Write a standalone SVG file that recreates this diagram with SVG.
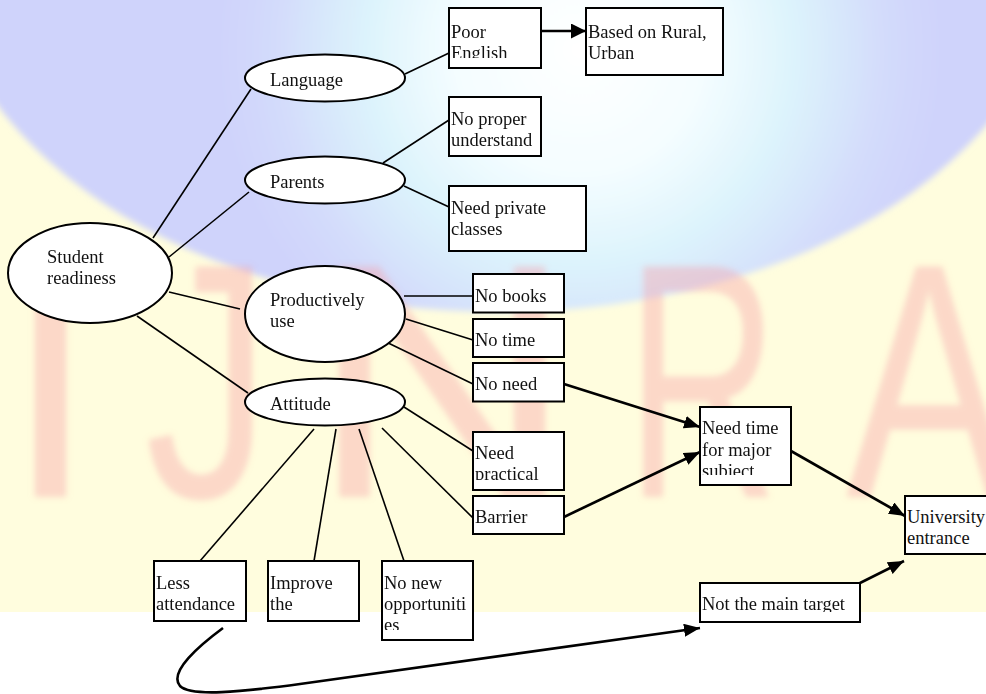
<svg xmlns="http://www.w3.org/2000/svg" width="986" height="694" viewBox="0 0 986 694">
  <style>
    .node rect, .node ellipse { fill: #ffffff; stroke: #000000; stroke-width: 2; }
    .node text { font-family: "Liberation Serif", "Times New Roman", serif; font-size: 18.5px; fill: #111111; }
    .link { stroke: #000000; stroke-width: 1.6; fill: none; }
    .flow { stroke: #000000; stroke-width: 2.6; fill: none; marker-end: url(#head); }
    .mark { font-family: "Liberation Sans", Arial, sans-serif; font-size: 335px; fill: #f7a0a8; fill-opacity: 0.4; }
  </style>
  <defs>
    <radialGradient id="globe" gradientUnits="userSpaceOnUse" cx="580" cy="50" r="360">
      <stop offset="0" stop-color="#ffffff"/>
      <stop offset="0.35" stop-color="#f4fdff"/>
      <stop offset="0.6" stop-color="#dcf3fc"/>
      <stop offset="0.85" stop-color="#d3dbfb"/>
      <stop offset="1" stop-color="#cfd3fb"/>
    </radialGradient>
    <filter id="soft" x="-10%" y="-10%" width="120%" height="120%">
      <feGaussianBlur stdDeviation="3"/>
    </filter>
    <marker id="head" markerUnits="userSpaceOnUse" markerWidth="16" markerHeight="13" refX="16" refY="6.5" orient="auto">
      <path d="M0,0 L16,6.5 L0,13 z" fill="#000"/>
    </marker>
    <marker id="headWide" markerUnits="userSpaceOnUse" markerWidth="15" markerHeight="15" refX="15" refY="7.5" orient="auto">
      <path d="M0,0 L15,7.5 L0,15 z" fill="#000"/>
    </marker>
    <clipPath id="clipPoor"><rect x="449" y="8" width="92" height="50"/></clipPath>
    <clipPath id="clipPract"><rect x="473" y="432" width="91" height="48"/></clipPath>
    <clipPath id="clipSubj"><rect x="700" y="407" width="91" height="68"/></clipPath>
    <clipPath id="clipOpp"><rect x="382" y="561" width="91" height="69"/></clipPath>
    <clipPath id="clipTarget"><rect x="700" y="583" width="160" height="29"/></clipPath>
  </defs>

  <!-- page background: pale band, globe and faint lettering -->
  <g id="background">
    <rect width="986" height="694" fill="#ffffff"/>
    <rect x="0" y="40" width="986" height="572" fill="#fffdde"/>
    <ellipse cx="500" cy="-58" rx="560" ry="370" fill="url(#globe)" filter="url(#soft)"/>
    <g filter="url(#soft)">
      <text class="mark" transform="translate(4,497)">I</text>
      <text class="mark" transform="translate(145,497) scale(0.75,1)">J</text>
      <text class="mark" transform="translate(309,497) scale(1.1,1)">N</text>
      <text class="mark" transform="translate(626,497) scale(0.63,1)">R</text>
      <text class="mark" transform="translate(846,497) scale(0.74,1)">A</text>
    </g>
  </g>

  <!-- connectors -->
  <g id="connectors">
    <line class="link" x1="153" y1="238" x2="251" y2="89"/>
    <line class="link" x1="169" y1="257" x2="249" y2="192"/>
    <line class="link" x1="169" y1="292" x2="240" y2="309"/>
    <line class="link" x1="137" y1="316" x2="248" y2="393"/>
    <line class="link" x1="405" y1="74" x2="449" y2="53"/>
    <line class="link" x1="383" y1="163" x2="449" y2="120"/>
    <line class="link" x1="404" y1="186" x2="449" y2="207"/>
    <line class="link" x1="404" y1="296" x2="473" y2="296"/>
    <line class="link" x1="406" y1="319" x2="473" y2="340"/>
    <line class="link" x1="382" y1="340" x2="473" y2="384"/>
    <line class="link" x1="404" y1="407" x2="473" y2="451"/>
    <line class="link" x1="382" y1="428" x2="473" y2="518"/>
    <line class="link" x1="314" y1="429" x2="200" y2="561"/>
    <line class="link" x1="336" y1="429" x2="314" y2="561"/>
    <line class="link" x1="359" y1="429" x2="404" y2="561"/>
    <line class="flow" x1="542" y1="31" x2="586" y2="31" stroke-width="3" style="marker-end:url(#headWide)"/>
    <line class="flow" x1="564" y1="384" x2="700" y2="427"/>
    <line class="flow" x1="564" y1="517" x2="700" y2="452"/>
    <line class="flow" x1="791" y1="451" x2="905" y2="516"/>
    <line class="flow" x1="860" y1="583" x2="904" y2="561"/>
    <path class="flow" d="M223,628 C200,645 168,672 180,686 C191,697 240,692 300,684 L700,628"/>
  </g>

  <!-- root -->
  <g id="student-readiness" class="node">
    <ellipse cx="90" cy="273" rx="82" ry="50"/>
    <text x="47" y="263">Student</text>
    <text x="47" y="284">readiness</text>
  </g>

  <!-- factors -->
  <g id="language" class="node">
    <ellipse cx="325" cy="78" rx="80" ry="23.5"/>
    <text x="270" y="86">Language</text>
  </g>
  <g id="parents" class="node">
    <ellipse cx="325" cy="180" rx="80" ry="23.5"/>
    <text x="270" y="188">Parents</text>
  </g>
  <g id="productively-use" class="node">
    <ellipse cx="325" cy="314" rx="80" ry="48"/>
    <text x="270" y="306">Productively</text>
    <text x="270" y="327">use</text>
  </g>
  <g id="attitude" class="node">
    <ellipse cx="325" cy="402" rx="80" ry="23.5"/>
    <text x="270" y="410">Attitude</text>
  </g>

  <!-- language branch -->
  <g id="poor-english" class="node">
    <rect x="449" y="8" width="92" height="60"/>
    <g clip-path="url(#clipPoor)">
      <text x="451" y="37.5">Poor</text>
      <text x="451" y="58.5">English</text>
    </g>
  </g>
  <g id="rural-urban" class="node">
    <rect x="586" y="8" width="137" height="67"/>
    <text x="588" y="37.5">Based on Rural,</text>
    <text x="588" y="58.5">Urban</text>
  </g>

  <!-- parents branch -->
  <g id="no-proper-understand" class="node">
    <rect x="449" y="97" width="92" height="59"/>
    <text x="451" y="125">No proper</text>
    <text x="451" y="146">understand</text>
  </g>
  <g id="need-private-classes" class="node">
    <rect x="449" y="186" width="137" height="65"/>
    <text x="451" y="213.5">Need private</text>
    <text x="451" y="235">classes</text>
  </g>

  <!-- productive use branch -->
  <g id="no-books" class="node">
    <rect x="473" y="274" width="91" height="38.5"/>
    <text x="475" y="301.5">No books</text>
  </g>
  <g id="no-time" class="node">
    <rect x="473" y="319" width="91" height="38"/>
    <text x="475" y="346">No time</text>
  </g>
  <g id="no-need" class="node">
    <rect x="473" y="363" width="91" height="38.5"/>
    <text x="475" y="390">No need</text>
  </g>

  <!-- attitude branch -->
  <g id="need-practical" class="node">
    <rect x="473" y="432" width="91" height="58"/>
    <g clip-path="url(#clipPract)">
      <text x="475" y="458.5">Need</text>
      <text x="475" y="479.5">practical</text>
    </g>
  </g>
  <g id="barrier" class="node">
    <rect x="473" y="496" width="91" height="38"/>
    <text x="475" y="523">Barrier</text>
  </g>
  <g id="less-attendance" class="node">
    <rect x="154" y="561" width="92" height="60"/>
    <text x="156" y="589">Less</text>
    <text x="156" y="610">attendance</text>
  </g>
  <g id="improve-the" class="node">
    <rect x="268" y="561" width="91" height="60"/>
    <text x="270" y="589">Improve</text>
    <text x="270" y="610">the</text>
  </g>
  <g id="no-new-opportunities" class="node">
    <rect x="382" y="561" width="91" height="79"/>
    <g clip-path="url(#clipOpp)">
      <text x="384" y="589">No new</text>
      <text x="384" y="610">opportuniti</text>
      <text x="384" y="631">es</text>
    </g>
  </g>

  <!-- outcomes -->
  <g id="need-time" class="node">
    <rect x="700" y="407" width="91" height="78"/>
    <g clip-path="url(#clipSubj)">
      <text x="702" y="434">Need time</text>
      <text x="702" y="455.5">for major</text>
      <text x="702" y="477">subject</text>
    </g>
  </g>
  <g id="not-main-target" class="node">
    <rect x="700" y="583" width="160" height="39"/>
    <g clip-path="url(#clipTarget)">
      <text x="702" y="610">Not the main target</text>
    </g>
  </g>
  <g id="university-entrance" class="node">
    <rect x="905" y="496" width="92" height="58"/>
    <text x="907" y="523">University</text>
    <text x="907" y="544">entrance</text>
  </g>
</svg>
